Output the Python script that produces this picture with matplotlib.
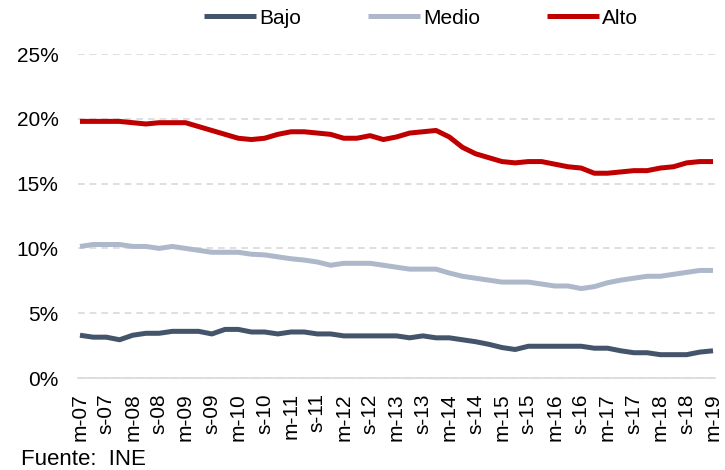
import matplotlib
matplotlib.use("Agg")
import matplotlib.pyplot as plt
from matplotlib.ticker import PercentFormatter

plt.rcParams["font.family"] = ["Liberation Sans", "DejaVu Sans"]

# ── Data (quarterly, m-07 … m-19) ─────────────────────────────────────────────
years = list(range(7, 19))
tick_labels = [f"{p}-{y:02d}" for y in years for p in ("m", "s")] + ["m-19"]

bajo = [3.3, 3.15, 3.15, 2.95, 3.3, 3.45, 3.45, 3.6, 3.6, 3.6,
        3.4, 3.75, 3.75, 3.55, 3.55, 3.4, 3.55, 3.55, 3.4, 3.4,
        3.25, 3.25, 3.25, 3.25, 3.25, 3.1, 3.25, 3.1, 3.1, 2.95,
        2.8, 2.6, 2.35, 2.2, 2.45, 2.45, 2.45, 2.45, 2.45, 2.3,
        2.3, 2.1, 1.95, 1.95, 1.8, 1.8, 1.8, 2.0, 2.1]

medio = [10.15, 10.3, 10.3, 10.3, 10.15, 10.15, 10.0, 10.15, 10.0, 9.85,
         9.7, 9.7, 9.7, 9.55, 9.5, 9.35, 9.2, 9.1, 8.95, 8.7,
         8.85, 8.85, 8.85, 8.7, 8.55, 8.4, 8.4, 8.4, 8.1, 7.85,
         7.7, 7.55, 7.4, 7.4, 7.4, 7.25, 7.1, 7.1, 6.9, 7.05,
         7.35, 7.55, 7.7, 7.85, 7.85, 8.0, 8.15, 8.3, 8.3]

alto = [19.8, 19.8, 19.8, 19.8, 19.7, 19.6, 19.7, 19.7, 19.7, 19.4,
        19.1, 18.8, 18.5, 18.4, 18.5, 18.8, 19.0, 19.0, 18.9, 18.8,
        18.5, 18.5, 18.7, 18.4, 18.6, 18.9, 19.0, 19.1, 18.6, 17.8,
        17.3, 17.0, 16.7, 16.6, 16.7, 16.7, 16.5, 16.3, 16.2, 15.8,
        15.8, 15.9, 16.0, 16.0, 16.2, 16.3, 16.6, 16.7, 16.7]

series = [("Bajo", bajo, "#44546A"), ("Medio", medio, "#ADB9CA"), ("Alto", alto, "#C00000")]

# ── Plot ──────────────────────────────────────────────────────────────────────
fig = plt.figure(figsize=(7.25, 4.7), dpi=100, facecolor="white")
ax = fig.add_axes([78 / 725, 92 / 470, 637 / 725, 324 / 470])

x = list(range(len(alto)))
for name, vals, color in series:
    ax.plot(x, vals, color=color, lw=3.6, label=name, solid_capstyle="butt")

ax.set_ylim(0, 25)
ax.set_xlim(-0.15, len(alto) - 0.85)
ax.set_yticks(range(0, 26, 5))
ax.yaxis.set_major_formatter(PercentFormatter(decimals=0))
ax.set_xticks(range(0, len(alto), 2))
ax.set_xticklabels(tick_labels, rotation=90, fontsize=15)
ax.tick_params(axis="y", length=0, pad=14, labelsize=15)
ax.tick_params(axis="x", length=0, pad=11)

ax.grid(axis="y", color="#D9D9D9", lw=1.2, ls=(0, (4, 3)))
ax.set_axisbelow(True)
for s in ("top", "right", "left"):
    ax.spines[s].set_visible(False)
ax.spines["bottom"].set_color("#D9D9D9")
ax.spines["bottom"].set_linewidth(1.2)

fig.legend(loc="center", bbox_to_anchor=(421 / 725, 1 - 18 / 470), ncol=3, frameon=False,
           fontsize=15, handlelength=2.5, handletextpad=0.15, columnspacing=3.2)

fig.text(21 / 725, 5 / 470, "Fuente:  INE", fontsize=16, va="baseline", ha="left")

fig.savefig("out.png", dpi=100, facecolor="white")
